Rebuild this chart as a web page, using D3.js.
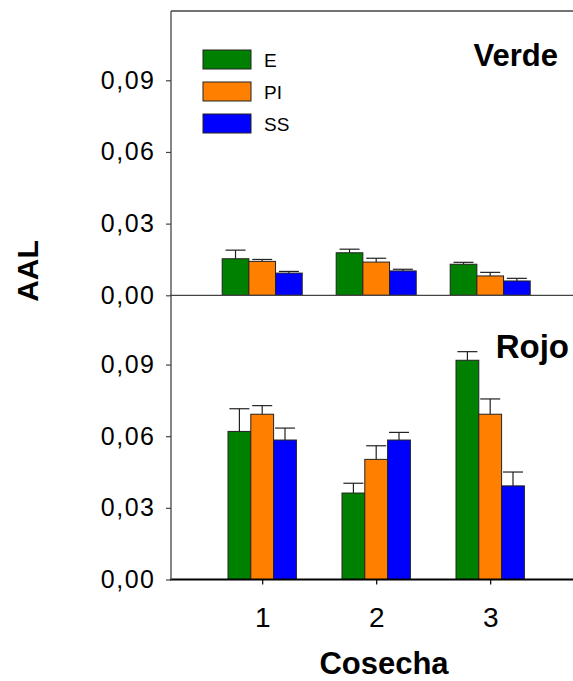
<!DOCTYPE html>
<html>
<head>
<meta charset="utf-8">
<script src="https://cdn.jsdelivr.net/npm/d3@7"></script>
<style>
    body { margin: 0; background: #fff; }
    svg { display: block; font-family: "Liberation Sans", Arial, sans-serif; }
</style>
</head>
<body>
<div id="chart"></div>
<script>
// Data
const harvests = [1, 2, 3];
const treatments = ["E", "PI", "SS"];
const yTicks = [0, 0.03, 0.06, 0.09];

// Verde (mean and upper error per harvest, in E / PI / SS order)
const verdeMeans = [[0.0153, 0.0142, 0.0093], [0.0178, 0.0139, 0.0102], [0.0130, 0.0081, 0.0060]];
const verdeErrors = [[0.0036, 0.0008, 0.0007], [0.0015, 0.0016, 0.0007], [0.0008, 0.0015, 0.0011]];

// Rojo
const rojoMeans = [[0.0620, 0.0692, 0.0584], [0.0362, 0.0503, 0.0584], [0.0918, 0.0692, 0.0392]];
const rojoErrors = [[0.0095, 0.0036, 0.0050], [0.0041, 0.0057, 0.0032], [0.0036, 0.0064, 0.0058]];

const width = 573;
const height = 681;

const svg = d3.select("#chart")
    .append("svg")
    .attr("width", width)
    .attr("height", height);

const color = d3.scaleOrdinal()
    .domain(treatments)
    .range(["#008000", "#ff8000", "#0000ff"]);

// Shared x scale
const x = d3.scaleLinear()
    .domain([0.2, 3.8])
    .range([171, 581.4]);

const comma = d3.formatLocale({ decimal: ",", thousands: ".", grouping: [3], currency: ["", ""] });
const fmt = comma.format(".2f");

const panels = [
    { name: "Verde", means: verdeMeans, errors: verdeErrors, range: [295.3, 11], barW: 0.234, label: [558, 66], size: 31 },
    { name: "Rojo", means: rojoMeans, errors: rojoErrors, range: [579.5, 295.3], barW: 0.2, label: [569, 358], size: 33 }
];

panels.forEach((p, pi) => {
    const y = d3.scaleLinear()
        .domain([0, 0.119])
        .range(p.range);

    const g = svg.append("g");

    // Bars
    const rows = [];
    harvests.forEach((h, i) => {
        treatments.forEach((t, j) => {
            rows.push({ h: h, t: t, j: j, v: p.means[i][j], e: p.errors[i][j] });
        });
    });

    const bw = x(p.barW) - x(0);
    const bx = d => x(d.h) + (d.j - 1.5) * bw;

    // Error bars (upper only)
    const err = g.selectAll(".err")
        .data(rows)
        .join("g")
        .attr("stroke", "#222")
        .attr("stroke-width", 1.2);
    err.append("line")
        .attr("x1", d => bx(d) + bw / 2)
        .attr("x2", d => bx(d) + bw / 2)
        .attr("y1", d => y(d.v))
        .attr("y2", d => y(d.v + d.e));
    err.append("line")
        .attr("x1", d => bx(d) + bw / 2 - 10)
        .attr("x2", d => bx(d) + bw / 2 + 10)
        .attr("y1", d => y(d.v + d.e))
        .attr("y2", d => y(d.v + d.e));

    g.selectAll(".bar")
        .data(rows)
        .join("rect")
        .attr("x", d => bx(d))
        .attr("y", d => y(d.v))
        .attr("width", bw)
        .attr("height", d => y(0) - y(d.v))
        .attr("fill", d => color(d.t))
        .attr("stroke", "#222")
        .attr("stroke-width", 1);

    // Y axis
    const yAxis = g.append("g")
        .attr("transform", "translate(171,0)")
        .call(d3.axisLeft(y).tickValues(yTicks).tickFormat(fmt).tickSize(5).tickPadding(10.5));
    yAxis.select(".domain").remove();
    yAxis.selectAll("line").attr("stroke", "#444").attr("stroke-width", 1.2);
    yAxis.selectAll("text")
        .style("font-size", "25px")
        .style("letter-spacing", "1.5px")
        .attr("fill", "#000");

    // Baseline
    g.append("line")
        .attr("x1", 170)
        .attr("x2", width)
        .attr("y1", y(0))
        .attr("y2", y(0))
        .attr("stroke", pi === 0 ? "#444" : "#000")
        .attr("stroke-width", pi === 0 ? 1.3 : 2);

    // Panel label
    g.append("text")
        .attr("x", p.label[0])
        .attr("y", p.label[1])
        .attr("text-anchor", "end")
        .style("font-size", p.size + "px")
        .style("font-weight", "bold")
        .text(p.name);

    if (pi === 1) {
        const xAxis = g.append("g")
            .attr("transform", `translate(0,${y(0)})`)
            .call(d3.axisBottom(x).tickValues(harvests).tickFormat(d3.format("d")).tickSize(5).tickPadding(23));
        xAxis.select(".domain").remove();
        xAxis.selectAll("line").attr("stroke", "#000").attr("stroke-width", 1.2);
        xAxis.selectAll("text")
            .style("font-size", "28px")
            .attr("fill", "#000");
    }
});

// Left axis line and top frame
svg.append("line")
    .attr("x1", 171).attr("x2", 171)
    .attr("y1", 11).attr("y2", 580)
    .attr("stroke", "#444")
    .attr("stroke-width", 1.3);
svg.append("line")
    .attr("x1", 171).attr("x2", width)
    .attr("y1", 11).attr("y2", 11)
    .attr("stroke", "#444")
    .attr("stroke-width", 1.3);

// Legend
const legend = svg.append("g")
    .attr("transform", "translate(203,50)");
treatments.forEach((t, i) => {
    const lg = legend.append("g")
        .attr("transform", `translate(0,${i * 32})`);
    lg.append("rect")
        .attr("width", 48)
        .attr("height", 19)
        .attr("fill", color(t))
        .attr("stroke", "#222")
        .attr("stroke-width", 1);
    lg.append("text")
        .attr("x", 61)
        .attr("y", 16.5)
        .style("font-size", "19px")
        .text(t);
});

// Axis titles
svg.append("text")
    .attr("transform", "translate(38,271) rotate(-90)")
    .attr("text-anchor", "middle")
    .style("font-size", "30px")
    .style("font-weight", "bold")
    .text("AAL");

svg.append("text")
    .attr("x", 384)
    .attr("y", 674)
    .attr("text-anchor", "middle")
    .style("font-size", "31px")
    .style("font-weight", "bold")
    .text("Cosecha");
</script>
</body>
</html>
